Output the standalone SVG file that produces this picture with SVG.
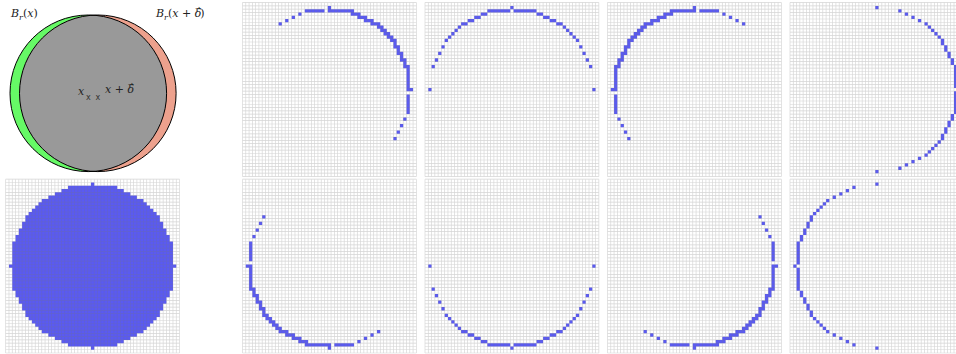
<svg xmlns="http://www.w3.org/2000/svg" width="956" height="354" viewBox="0 0 956 354">
<style>
.m{font-family:"DejaVu Serif","Liberation Serif",serif;font-size:11px;fill:#222}
.i{font-style:italic}
.ar{font-family:"DejaVu Sans","Liberation Sans",sans-serif;font-size:6px;font-style:normal}
.mk{font-family:"DejaVu Sans","Liberation Sans",sans-serif;font-size:8px;fill:#333}
.outline{fill:none;stroke:#000;stroke-width:1}
</style>
<defs>
<g id="grid" opacity="0.3"><path d="M-26.6 0H26.6" fill="none" stroke="#777" stroke-width="53" stroke-dasharray="0.2 0.8"/><path d="M0 -26.6V26.6" fill="none" stroke="#777" stroke-width="53" stroke-dasharray="0.2 0.8"/></g>
<path id="DK" d="M-24.5 -7.5h49v15h-49z M-25.5 -0.5h51v1h-51z M-23.5 7.5h47v2h-47z M-23.5 -9.5h47v2h-47z M-22.5 9.5h45v2h-45z M-22.5 -11.5h45v2h-45z M-21.5 11.5h43v2h-43z M-21.5 -13.5h43v2h-43z M-20.5 13.5h41v2h-41z M-20.5 -15.5h41v2h-41z M-19.5 15.5h39v1h-39z M-19.5 -16.5h39v1h-39z M-18.5 16.5h37v1h-37z M-18.5 -17.5h37v1h-37z M-17.5 17.5h35v1h-35z M-17.5 -18.5h35v1h-35z M-16.5 18.5h33v1h-33z M-16.5 -19.5h33v1h-33z M-15.5 19.5h31v1h-31z M-15.5 -20.5h31v1h-31z M-13.5 20.5h27v1h-27z M-13.5 -21.5h27v1h-27z M-11.5 21.5h23v1h-23z M-11.5 -22.5h23v1h-23z M-9.5 22.5h19v1h-19z M-9.5 -23.5h19v1h-19z M-7.5 23.5h15v1h-15z M-7.5 -24.5h15v1h-15z M-0.5 24.5h1v1h-1z M-0.5 -25.5h1v1h-1z"/>
<path id="SR" d="M23.5 -7.5h1v7h-1z M23.5 0.5h1v7h-1z M24.5 -0.5h1v1h-1z M22.5 -9.5h1v2h-1z M22.5 7.5h1v2h-1z M21.5 -11.5h1v2h-1z M21.5 9.5h1v2h-1z M20.5 -13.5h1v2h-1z M20.5 11.5h1v2h-1z M19.5 -15.5h1v2h-1z M19.5 13.5h1v2h-1z M18.5 -16.5h1v1h-1z M18.5 15.5h1v1h-1z M17.5 -17.5h1v1h-1z M17.5 16.5h1v1h-1z M16.5 -18.5h1v1h-1z M16.5 17.5h1v1h-1z M15.5 -19.5h1v1h-1z M15.5 18.5h1v1h-1z M14.5 -20.5h1v1h-1z M14.5 19.5h1v1h-1z M12.5 -21.5h1v1h-1z M12.5 20.5h1v1h-1z M10.5 -22.5h1v1h-1z M10.5 21.5h1v1h-1z M8.5 -23.5h1v1h-1z M8.5 22.5h1v1h-1z M6.5 -24.5h1v1h-1z M6.5 23.5h1v1h-1z M-0.5 -25.5h1v1h-1z M-0.5 24.5h1v1h-1z"/>
<path id="SD" d="M-0.5 -25.5h1v1h-1z M-7.5 -24.5h6v1h-6z M-0.5 -24.5h8v1h-8z M-9.5 -23.5h1v1h-1z M6.5 -23.5h3v1h-3z M-11.5 -22.5h1v1h-1z M8.5 -22.5h3v1h-3z M-13.5 -21.5h1v1h-1z M10.5 -21.5h3v1h-3z M-15.5 -20.5h1v1h-1z M12.5 -20.5h3v1h-3z M14.5 -19.5h2v1h-2z M15.5 -18.5h2v1h-2z M16.5 -17.5h2v1h-2z M17.5 -16.5h2v1h-2z M18.5 -15.5h2v1h-2z M19.5 -14.5h1v1h-1z M19.5 -13.5h2v1h-2z M20.5 -12.5h1v1h-1z M20.5 -11.5h2v1h-2z M21.5 -10.5h1v1h-1z M21.5 -9.5h2v1h-2z M22.5 -8.5h1v1h-1z M22.5 -7.5h2v1h-2z M23.5 -6.5h1v6h-1z M23.5 -0.5h2v1h-2z M23.5 1.5h1v6h-1z M22.5 8.5h1v1h-1z M21.5 10.5h1v1h-1z M20.5 12.5h1v1h-1z M19.5 14.5h1v1h-1z"/>
<clipPath id="cg"><circle cx="88.3" cy="93.3" r="78.3"/></clipPath>
</defs>

<g id="venn">
<circle cx="88.3" cy="93.3" r="78.3" fill="#66f966"/>
<circle cx="97.8" cy="93.3" r="78.3" fill="#eda18d"/>
<circle cx="97.8" cy="93.3" r="78.3" fill="#999999" clip-path="url(#cg)"/>
<circle class="outline" cx="88.3" cy="93.3" r="78.3"/>
<circle class="outline" cx="97.8" cy="93.3" r="78.3"/>
<text class="m" x="11" y="17"><tspan class="i">B</tspan><tspan class="i" font-size="8" dy="2.5">r</tspan><tspan dy="-2.5">(</tspan><tspan class="i">x</tspan>)</text>
<text class="m" x="156" y="17"><tspan class="i">B</tspan><tspan class="i" font-size="8" dy="2.5">r</tspan><tspan dy="-2.5">(</tspan><tspan class="i">x</tspan> + <tspan class="i">δ</tspan><tspan class="ar" dx="-6" dy="-7.5">→</tspan><tspan dx="0" dy="7.5">)</tspan></text>
<text class="m i" x="78" y="95">x</text>
<text class="mk" x="86" y="100">x</text>
<text class="mk" x="95.5" y="100">x</text>
<text class="m" x="105" y="93"><tspan class="i">x</tspan> + <tspan class="i">δ</tspan><tspan class="ar" dx="-6" dy="-7.5">→</tspan></text>
</g>

<g id="disk" transform="translate(92.62 266.12) scale(3.28)"><use href="#DK" fill="#5a5af2"/><use href="#grid"/></g>

<g id="shell-up-right" transform="translate(329.42 89.52) scale(3.28)"><use href="#SD" fill="#5a5af2"/><use href="#grid"/></g>
<g id="shell-up" transform="translate(511.92 89.52) scale(3.28)"><use href="#SR" fill="#5a5af2" transform="rotate(-90)"/><use href="#grid"/></g>
<g id="shell-up-left" transform="translate(694.42 89.52) scale(3.28)"><use href="#SD" fill="#5a5af2" transform="scale(-1 1)"/><use href="#grid"/></g>
<g id="shell-right" transform="translate(876.92 89.52) scale(3.28)"><use href="#SR" fill="#5a5af2"/><use href="#grid"/></g>

<g id="shell-down-left" transform="translate(329.42 266.12) scale(3.28)"><use href="#SD" fill="#5a5af2" transform="rotate(180)"/><use href="#grid"/></g>
<g id="shell-down" transform="translate(511.92 266.12) scale(3.28)"><use href="#SR" fill="#5a5af2" transform="rotate(90)"/><use href="#grid"/></g>
<g id="shell-down-right" transform="translate(694.42 266.12) scale(3.28)"><use href="#SD" fill="#5a5af2" transform="scale(1 -1)"/><use href="#grid"/></g>
<g id="shell-left" transform="translate(876.92 266.12) scale(3.28)"><use href="#SR" fill="#5a5af2" transform="rotate(180)"/><use href="#grid"/></g>

<g id="connectors"/>
</svg>
